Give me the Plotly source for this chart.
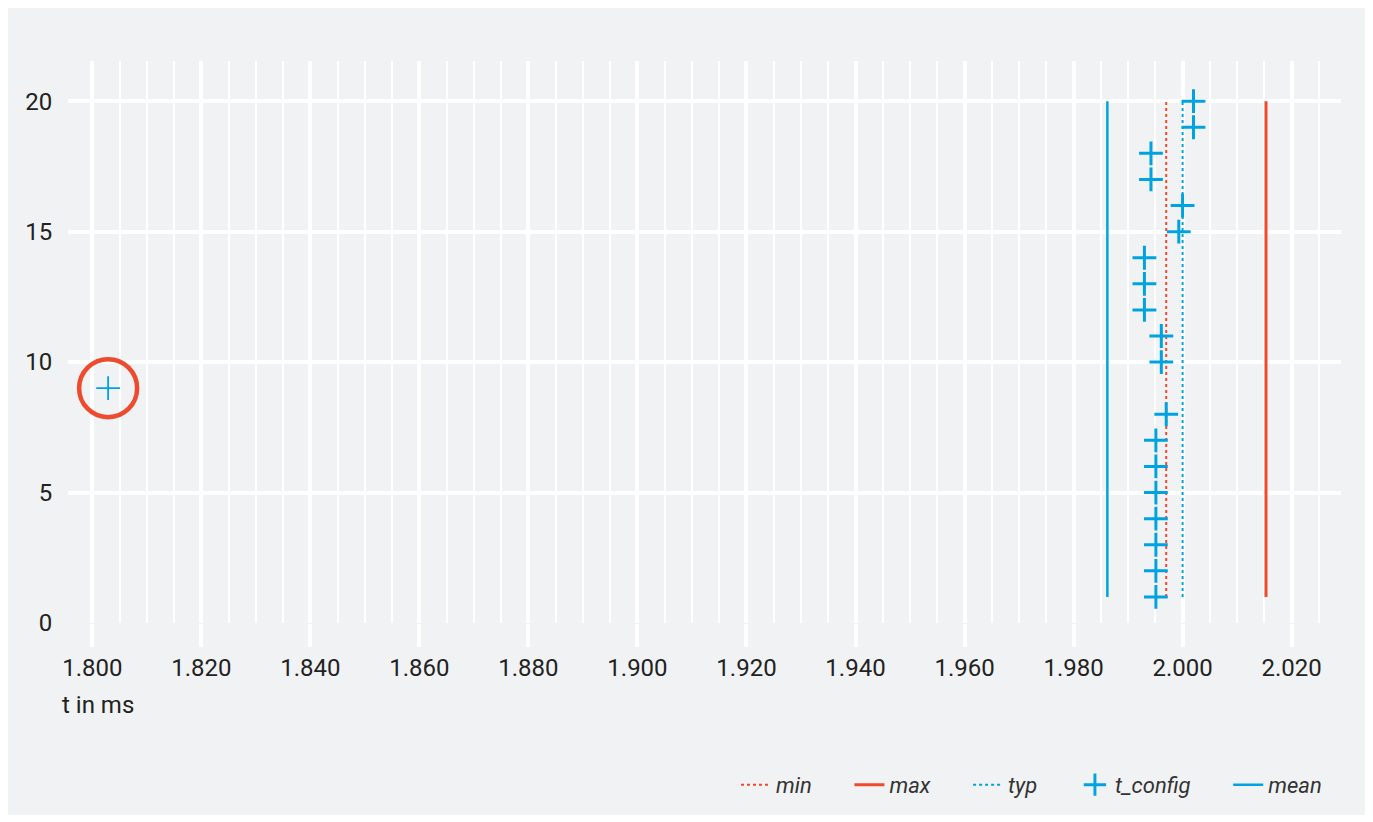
import plotly.graph_objects as go

# Data
run_index = list(range(1, 21))
t_config = [1.9951, 1.9951, 1.9951, 1.9951, 1.9951, 1.9951, 1.9951, 1.9970, 1.8029, 1.9961,
            1.9961, 1.9930, 1.9930, 1.9930, 1.9993, 2.0000, 1.9942, 1.9942, 2.0020, 2.0020]
spec_min = 1.9970
spec_typ = 2.0000
spec_max = 2.0153
mean_val = 1.9862
line_span = [1, 20]

BLUE = "#00a3e0"
RED = "#ef4a2d"
BG = "#f1f2f4"
TXT = "#222222"
FONT = "Roboto"
PAD = "&nbsp;" * 6

fig = go.Figure()

fig.add_trace(go.Scatter(x=[spec_min, spec_min], y=line_span, mode="lines", name="<i>min</i>" + PAD,
                         line=dict(color=RED, width=2, dash="dot")))
fig.add_trace(go.Scatter(x=[spec_max, spec_max], y=line_span, mode="lines", name="<i>max</i>" + PAD,
                         line=dict(color=RED, width=3)))
fig.add_trace(go.Scatter(x=[spec_typ, spec_typ], y=line_span, mode="lines", name="<i>typ</i>" + PAD,
                         line=dict(color=BLUE, width=2, dash="dot")))

# outlier highlight ring (derived from data)
i_out = min(range(len(t_config)), key=lambda i: t_config[i])
fig.add_trace(go.Scatter(x=[t_config[i_out]], y=[run_index[i_out]], mode="markers", showlegend=False,
                         hoverinfo="skip",
                         marker=dict(symbol="circle-open", size=58, color=RED, line=dict(width=4.5, color=RED))))

widths = [1.8 if i == i_out else 3 for i in range(len(t_config))]
fig.add_trace(go.Scatter(x=t_config, y=run_index, mode="markers", name="<i>t_config</i>" + PAD,
                         marker=dict(symbol="cross-thin-open", size=17, color=BLUE,
                                     line=dict(width=widths, color=BLUE))))
fig.add_trace(go.Scatter(x=[mean_val, mean_val], y=line_span, mode="lines", name="<i>mean</i>",
                         line=dict(color=BLUE, width=2.5)))

fig.add_shape(type="rect", xref="paper", yref="paper", x0=-0.06, x1=1.0204, y0=-0.3416, y1=1.12,
              fillcolor=BG, line=dict(width=0), layer="below")

fig.add_annotation(text="t in ms", xref="paper", yref="paper", x=-0.0063, y=-0.146,
                   xanchor="left", yanchor="middle", showarrow=False,
                   font=dict(family=FONT, size=24, color=TXT))

fig.update_layout(
    width=1365, height=814,
    margin=dict(l=60, r=32, t=53, b=199),
    paper_bgcolor="white", plot_bgcolor=BG,
    font=dict(family=FONT, size=24, color=TXT),
    showlegend=True,
    legend=dict(orientation="h", xanchor="right", x=0.989, yanchor="middle", y=-0.288,
                bgcolor="rgba(0,0,0,0)", font=dict(family=FONT, size=22, color="#333333"),
                traceorder="normal"),
    xaxis=dict(range=[1.79554, 2.02906], dtick=0.02, tick0=1.8, tickformat=".3f",
               showgrid=True, gridcolor="white", gridwidth=4, zeroline=False, showline=False,
               ticks="outside", ticklen=23, tickwidth=4, tickcolor="white",
               minor=dict(dtick=0.005, tick0=1.8, showgrid=True, gridcolor="white", gridwidth=2, ticks=""),
               tickfont=dict(family=FONT, size=24, color=TXT)),
    yaxis=dict(range=[0, 21.54], dtick=5, tick0=0,
               showgrid=True, gridcolor="white", gridwidth=4, zeroline=False, showline=False,
               ticks="outside", ticklen=10, tickcolor="rgba(0,0,0,0)",
               tickfont=dict(family=FONT, size=24, color=TXT)),
)

fig.write_html("out.html")
